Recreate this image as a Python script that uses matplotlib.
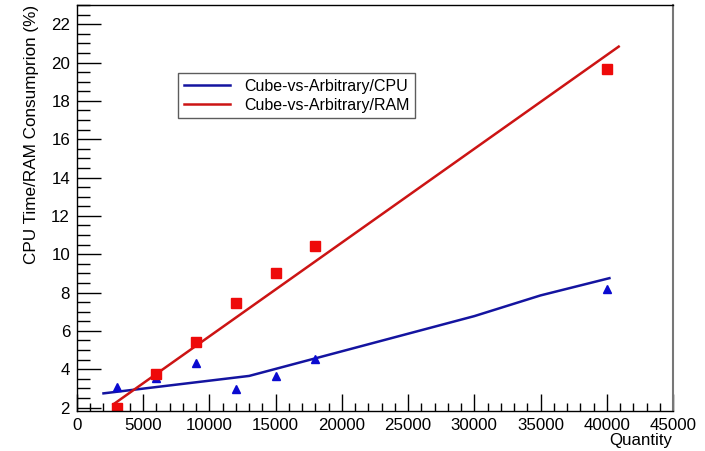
import matplotlib
matplotlib.use("Agg")
import matplotlib.pyplot as plt
from matplotlib.ticker import MultipleLocator

plt.rcParams['font.family'] = ['Liberation Sans', 'DejaVu Sans']

# Data
quantity = [3000, 6000, 9000, 12000, 15000, 18000, 40000]
cpu_vals = [3.09, 3.56, 4.32, 2.95, 3.67, 4.52, 8.18]
ram_vals = [1.96, 3.75, 5.44, 7.45, 9.00, 10.45, 19.67]

# Fitted/trend curves as drawn
cpu_curve_x = [2000, 13000, 30000, 35000, 40200]
cpu_curve_y = [2.74, 3.65, 6.77, 7.85, 8.75]
ram_fit_x = [2750, 40900]
ram_fit_y = [2.17, 20.83]

labels = ["Cube-vs-Arbitrary/CPU", "Cube-vs-Arbitrary/RAM"]

fig = plt.figure(figsize=(7.05, 4.51), dpi=100)
ax = fig.add_axes([77/705, 1-411/451, (673-77)/705, (411-5)/451])

l1, = ax.plot(cpu_curve_x, cpu_curve_y, color='#1414a0', lw=1.8, label=labels[0])
l2, = ax.plot(ram_fit_x, ram_fit_y, color='#cc1414', lw=1.8, label=labels[1])
ax.plot(quantity, cpu_vals, linestyle='none', marker='^', ms=6, color='#0a0ad0', mec='#0a0ad0')
ax.plot(quantity, ram_vals, linestyle='none', marker='s', ms=6.5, color='#ee0a0a', mec='#ee0a0a')

ax.set_xlim(0, 45000)
ax.set_ylim(1.82, 23)

ax.xaxis.set_major_locator(MultipleLocator(5000))
ax.xaxis.set_minor_locator(MultipleLocator(1000))
ax.yaxis.set_major_locator(MultipleLocator(2))
ax.yaxis.set_minor_locator(MultipleLocator(0.5))

ax.tick_params(axis='both', which='both', direction='in', top=False, right=False,
               labelsize=12.2, colors='black', width=1.0)
ax.tick_params(axis='x', which='major', length=12, pad=5)
ax.tick_params(axis='x', which='minor', length=6)
ax.tick_params(axis='y', which='major', length=17, pad=5)
ax.tick_params(axis='y', which='minor', length=9)

for s in ['left', 'bottom', 'top']:
    ax.spines[s].set_color('black')
    ax.spines[s].set_linewidth(1.0)
ax.spines['right'].set_color('#777777')
ax.spines['right'].set_linewidth(1.5)

fig.text(32/705, 1-5/451, "CPU Time/RAM Consumprion (%)", rotation=90,
         ha='center', va='top', fontsize=12.3)
fig.text(672/705, 1-441/451, "Quantity", ha='right', va='center', fontsize=12.2)

leg = ax.legend(handles=[l1, l2], loc='upper left',
                bbox_to_anchor=((178-77)/596, 1-(73-5)/406),
                frameon=True, fancybox=False, fontsize=11.5,
                handlelength=2.9, borderpad=0.35, labelspacing=0.25,
                handletextpad=0.9, borderaxespad=0)
leg.get_frame().set_edgecolor('#333333')
leg.get_frame().set_linewidth(1.0)

fig.savefig("out.png", dpi=100)
